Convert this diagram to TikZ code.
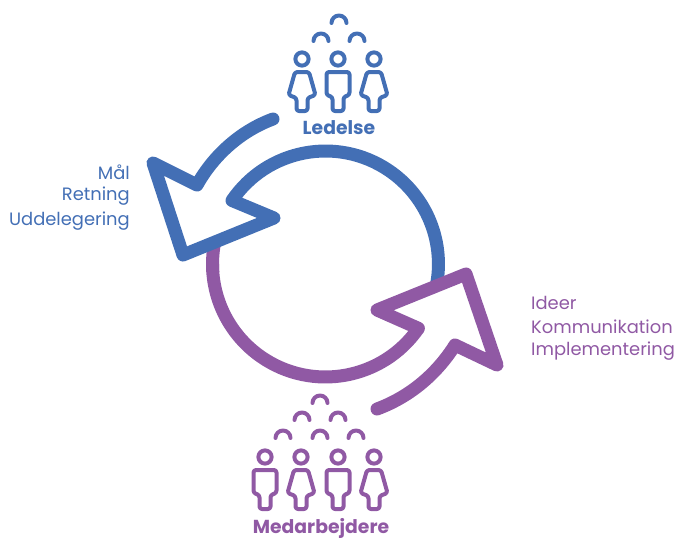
\documentclass[tikz,border=0pt]{standalone}
\usepackage{fontspec}
\setmainfont{Poppins}
\definecolor{blu}{HTML}{436FB5}
\definecolor{pur}{HTML}{9059A4}
\tikzset{
  big/.style={line width=13pt,line join=round,line cap=round},
  bigring/.style={line width=13pt,line join=round},
  ico/.style={line width=4pt,line join=round,line cap=round},
  lbl/.style={font=\fontsize{17.9}{20}\selectfont,inner sep=0pt},
  ttl/.style={font=\fontsize{18.8}{20}\selectfont\bfseries,inner sep=0pt},
  arch/.pic={\draw[ico] (-7.5,3) arc[start angle=180,end angle=360,radius=7.5];},
  man/.pic={
    \draw[ico] (0,-12) circle[radius=6.6];
    \draw[ico,rounded corners=2.5pt] (-11.5,1) -- (11.5,1) -- (11.5,24) -- (5.5,26) -- (5.5,40) -- (-5.5,40) -- (-5.5,26) -- (-11.5,24) -- cycle;},
  woman/.pic={
    \draw[ico] (0,-12) circle[radius=6.6];
    \draw[ico,rounded corners=2.5pt] (-7,1) -- (7,1) -- (13.5,24) -- (5.5,27) -- (5.5,40) -- (-5.5,40) -- (-5.5,27) -- (-13.5,24) -- cycle;},
}
\begin{document}
\begin{tikzpicture}[x=1pt,y=-1pt]
\useasboundingbox (0,0) rectangle (675,539);
\coordinate (bs) at (232,200.5);
\coordinate (ps) at (418.4,328.3);
\coordinate (st) at (212.8,271.9);
% purple ring stub under the blue head
\draw[pur,bigring] (st) arc[start angle=176,end angle=190,radius=113];
% blue arrow
\draw[blu,bigring] (bs) arc[start angle=214.2,end angle=370,radius=113];
\draw[blu,big] (273,119) .. controls (238,132) and (212,158) .. (197,185) -- (153,163) -- (183,255) -- (274,218) -- (bs);
% purple arrow
\draw[pur,bigring] (ps) arc[start angle=34.7,end angle=180,radius=113];
\draw[pur,big] (377,409) .. controls (412,396) and (438,372) .. (455,345) -- (497,365) -- (466,274) -- (377,310) -- (ps);
% top people
\foreach \x/\y in {339/20,321/38,357/38}{\pic[blu] at (\x,\y) {arch};}
\pic[blu] at (302,71) {woman};
\pic[blu] at (338,71) {man};
\pic[blu] at (374,71) {woman};
% bottom people
\foreach \x/\y in {320/400,302/417,338/417,283/435,320/435,356/435}{\pic[pur] at (\x,\y) {arch};}
\pic[pur] at (265,469) {man};
\pic[pur] at (301,469) {woman};
\pic[pur] at (338,469) {man};
\pic[pur] at (374,469) {woman};
% labels
\node[ttl,blu] (led) at (339,128) {Ledelse};
\node[ttl,pur] (med) at (321,528) {Medarbejdere};
\node[lbl,blu,anchor=east] (m1) at (130,172) {Mål};
\node[lbl,blu,anchor=east] (m2) at (130,196) {Retning};
\node[lbl,blu,anchor=east] (m3) at (130,221) {Uddelegering};
\node[lbl,pur,anchor=west] (i1) at (531,303) {Ideer};
\node[lbl,pur,anchor=west] (i2) at (531,327) {Kommunikation};
\node[lbl,pur,anchor=west] (i3) at (531,351) {Implementering};
\end{tikzpicture}
\end{document}
